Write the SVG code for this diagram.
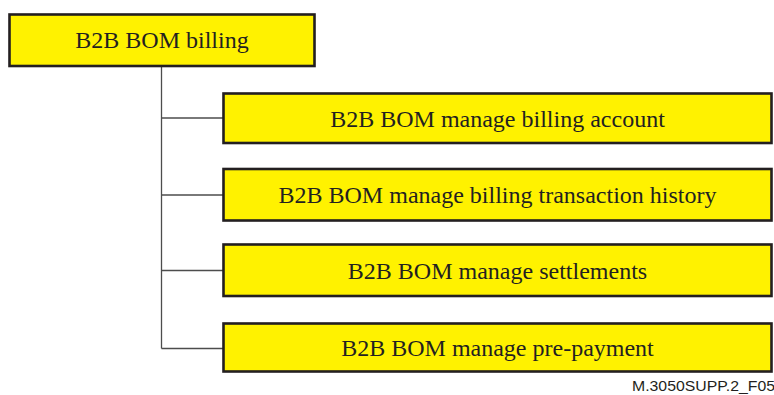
<svg xmlns="http://www.w3.org/2000/svg" width="774" height="395" viewBox="0 0 774 395">
<style>
.box{fill:#fff200;stroke:#231f20;stroke-width:2.6}
.lbl{font-family:"Liberation Serif","Times New Roman",serif;font-size:24px;fill:#231f20;text-anchor:middle}
.conn{stroke:#4d4d4d;stroke-width:1.3;fill:none}
.note{font-family:"Liberation Sans",Arial,sans-serif;font-size:15px;fill:#231f20}
</style>
<rect width="774" height="395" fill="#ffffff"/>
<g id="connectors">
<path class="conn" d="M161.5 66 V348.5"/>
<path class="conn" d="M161.5 118 H223"/>
<path class="conn" d="M161.5 195 H223"/>
<path class="conn" d="M161.5 270.5 H223"/>
<path class="conn" d="M161.5 348.5 H223"/>
</g>
<g id="n0">
<rect class="box" x="9.5" y="14.5" width="305" height="51.5"/>
<text class="lbl" x="162" y="48">B2B BOM billing</text>
</g>
<g id="n1">
<rect class="box" x="223.5" y="93.5" width="548" height="49.5"/>
<text class="lbl" x="497.5" y="126.5">B2B BOM manage billing account</text>
</g>
<g id="n2">
<rect class="box" x="223.5" y="169" width="548" height="51.5"/>
<text class="lbl" x="497.5" y="203">B2B BOM manage billing transaction history</text>
</g>
<g id="n3">
<rect class="box" x="223.5" y="244.5" width="548" height="51.5"/>
<text class="lbl" x="497.5" y="278.5">B2B BOM manage settlements</text>
</g>
<g id="n4">
<rect class="box" x="223.5" y="323.5" width="548" height="48"/>
<text class="lbl" x="497.5" y="356">B2B BOM manage pre-payment</text>
</g>
<text class="note" x="632" y="390.5" textLength="143" lengthAdjust="spacingAndGlyphs">M.3050SUPP.2_F05</text>
</svg>
